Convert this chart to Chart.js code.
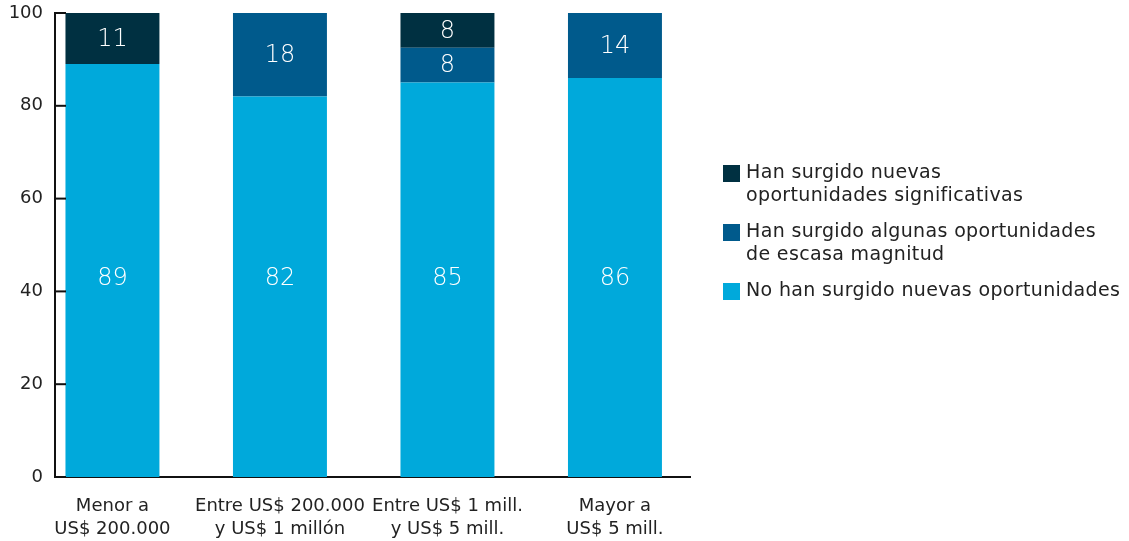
<!DOCTYPE html>
<html>
<head>
<meta charset="utf-8">
<script src="https://cdn.jsdelivr.net/npm/chart.js@4"></script>
<style>
  html, body { margin: 0; padding: 0; background: #fff; }
  #wrap { position: relative; width: 1129px; height: 541px; }
  #legend { position: absolute; left: 723px; top: 160px; font-family: "DejaVu Sans", sans-serif; font-size: 19px; letter-spacing: 0.35px; color: #222; }
  .item { display: flex; align-items: flex-start; margin-bottom: 13px; line-height: 23px; }
  .box { width: 17px; height: 17px; margin-top: 5px; margin-right: 6px; flex: none; }
</style>
</head>
<body>
<div id="wrap">
  <canvas id="myChart" width="1129" height="541"></canvas>
  <div id="legend"></div>
</div>
<script>
const categories = [
    ['Menor a', 'US$ 200.000'],
    ['Entre US$ 200.000', 'y US$ 1 millón'],
    ['Entre US$ 1 mill.', 'y US$ 5 mill.'],
    ['Mayor a', 'US$ 5 mill.']
];
const noSurgido = [89, 82, 85, 86];
const algunas = [0, 18, 7.5, 14];
const significativas = [11, 0, 7.5, 0];
const seriesNames = [
    'No han surgido nuevas oportunidades',
    'Han surgido algunas oportunidades de escasa magnitud',
    'Han surgido nuevas oportunidades significativas'
];
const legendLines = [
    ['No han surgido nuevas oportunidades'],
    ['Han surgido algunas oportunidades', 'de escasa magnitud'],
    ['Han surgido nuevas', 'oportunidades significativas']
];
const colors = ['#00a9db', '#005a8c', '#003041'];
const yTicks = [0, 20, 40, 60, 80, 100];

const font = '"DejaVu Sans", sans-serif';

function points(values) {
    return values.map((v, i) => ({ x: i, y: v }));
}

// numbers inside each segment; the bottom series sits on one common line
const segmentLabels = {
    id: 'segmentLabels',
    afterDatasetsDraw(chart) {
        const ctx = chart.ctx;
        const yScale = chart.scales.y;
        ctx.save();
        ctx.fillStyle = '#fff';
        ctx.font = '300 24px ' + font;
        ctx.textAlign = 'center';
        ctx.textBaseline = 'middle';
        chart.data.datasets.forEach((ds, d) => {
            chart.getDatasetMeta(d).data.forEach((bar, i) => {
                const v = ds.data[i].y;
                if (!v) return;
                const py = d === 0 ? yScale.getPixelForValue(43) : (bar.y + bar.base) / 2;
                ctx.fillText(String(Math.round(v)), bar.x, py + 1);
            });
        });
        ctx.restore();
    }
};

// short tick marks pointing into the plot on the y axis
const innerTicks = {
    id: 'innerTicks',
    afterDraw(chart) {
        const ctx = chart.ctx;
        const y = chart.scales.y;
        ctx.save();
        ctx.strokeStyle = '#111';
        ctx.lineWidth = 2;
        yTicks.forEach(t => {
            const py = y.getPixelForValue(t);
            ctx.beginPath();
            ctx.moveTo(y.right, py);
            ctx.lineTo(y.right + 11, py);
            ctx.stroke();
        });
        ctx.restore();
    }
};

const ctx = document.getElementById('myChart').getContext('2d');
const myChart = new Chart(ctx, {
    type: 'bar',
    data: {
        datasets: [
            { label: seriesNames[0], data: points(noSurgido), backgroundColor: colors[0] },
            { label: seriesNames[1], data: points(algunas), backgroundColor: colors[1] },
            { label: seriesNames[2], data: points(significativas), backgroundColor: colors[2] }
        ]
    },
    options: {
        responsive: false,
        animation: false,
        layout: { padding: { top: 13, right: 439, left: 0, bottom: 0 } },
        barPercentage: 0.561,
        categoryPercentage: 1,
        plugins: {
            legend: { display: false },
            tooltip: { enabled: false }
        },
        scales: {
            x: {
                type: 'linear',
                stacked: true,
                offset: false,
                min: -0.343,
                max: 3.448,
                afterBuildTicks: s => { s.ticks = categories.map((c, i) => ({ value: i })); },
                afterFit: s => { s.height = 64; s.paddingLeft = 0; s.paddingRight = 0; },
                ticks: {
                    callback: v => categories[v],
                    color: '#222',
                    font: { family: font, size: 18, lineHeight: 1.28 },
                    padding: 18,
                    maxRotation: 0,
                    autoSkip: false
                },
                grid: { display: false, drawTicks: false },
                border: { display: true, color: '#111', width: 2 }
            },
            y: {
                stacked: true,
                min: 0,
                max: 100,
                afterBuildTicks: s => { s.ticks = yTicks.map(v => ({ value: v })); },
                afterFit: s => { s.width = 55; s.paddingTop = 0; s.paddingBottom = 0; },
                ticks: {
                    color: '#222',
                    font: { family: font, size: 18 },
                    padding: 12
                },
                grid: { display: false, drawTicks: false },
                border: { display: true, color: '#111', width: 2 }
            }
        }
    },
    plugins: [segmentLabels, innerTicks]
});

// legend, top item first
const legend = document.getElementById('legend');
[2, 1, 0].forEach(i => {
    const item = document.createElement('div');
    item.className = 'item';
    const box = document.createElement('div');
    box.className = 'box';
    box.style.background = colors[i];
    const text = document.createElement('div');
    text.innerHTML = legendLines[i].join('<br>');
    item.appendChild(box);
    item.appendChild(text);
    legend.appendChild(item);
});
</script>
</body>
</html>
